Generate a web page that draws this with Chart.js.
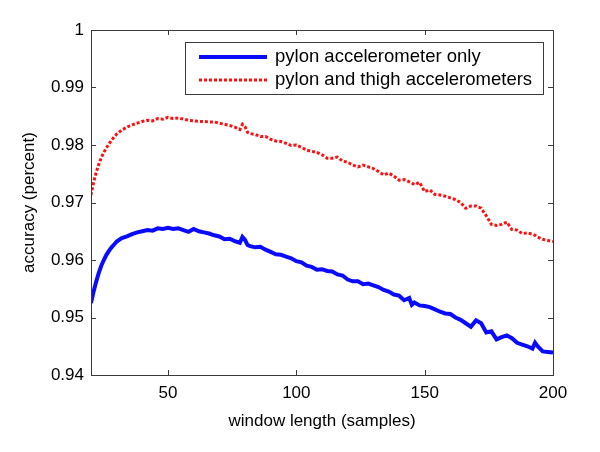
<!DOCTYPE html>
<html>
<head>
<meta charset="utf-8">
<script src="https://cdn.jsdelivr.net/npm/chart.js@4"></script>
<style>
  html, body { margin: 0; padding: 0; background: #fff; }
  #wrap { width: 600px; height: 452px; }
</style>
</head>
<body>
<div id="wrap"><canvas id="accChart" width="600" height="452"></canvas></div>
<script>
// window length (samples)
let windowLen = [20,21,22,23,24,25,26,27,28,29,30,32,34,36,38,40,42,44,46,48,50,52,54,56,58,60,62,64,66,68,70,72,74,76,78,79,80,81,82,84,86,88,90,92,94,96,98,100,102,104,106,108,110,112,114,116,118,120,122,124,126,128,130,132,134,136,138,140,142,144,145,146,148,150,152,154,156,158,160,162,164,166,168,170,172,174,176,178,180,182,184,186,188,190,192,193,194,196,198,200];

// pylon accelerometer only
let pylonOnly = [0.9525,0.9545,0.9562,0.9577,0.9590,0.9600,0.9609,0.9616,0.9622,0.9627,0.9632,0.9638,0.9641,0.9645,0.9648,0.9650,0.9652,0.9651,0.9655,0.9654,0.9656,0.9654,0.9655,0.9652,0.9649,0.9654,0.9650,0.9648,0.9646,0.9643,0.9641,0.9636,0.9637,0.9633,0.9630,0.9640,0.9635,0.9626,0.9624,0.9622,0.9623,0.9618,0.9614,0.9610,0.9609,0.9606,0.9603,0.9598,0.9596,0.9590,0.9588,0.9583,0.9584,0.9581,0.9580,0.9575,0.9573,0.9566,0.9563,0.9563,0.9558,0.9559,0.9556,0.9553,0.9548,0.9545,0.9540,0.9538,0.9530,0.9534,0.9522,0.9526,0.9521,0.9520,0.9518,0.9514,0.9510,0.9507,0.9506,0.9500,0.9496,0.9490,0.9484,0.9495,0.9490,0.9474,0.9476,0.9462,0.9466,0.9469,0.9464,0.9456,0.9453,0.9450,0.9446,0.9456,0.9450,0.9441,0.9440,0.9439];

// pylon and thigh accelerometers
let pylonThigh = [0.9713,0.9735,0.9752,0.9766,0.9778,0.9787,0.9795,0.9802,0.9808,0.9814,0.9819,0.9826,0.9831,0.9835,0.9838,0.9841,0.9843,0.9842,0.9846,0.9845,0.9848,0.9846,0.9847,0.9845,0.9843,0.9842,0.9841,0.9841,0.9840,0.9840,0.9838,0.9836,0.9834,0.9831,0.9827,0.9836,0.9832,0.9822,0.9820,0.9818,0.9815,0.9815,0.9810,0.9807,0.9806,0.9803,0.9799,0.9800,0.9796,0.9791,0.9789,0.9787,0.9783,0.9777,0.9777,0.9779,0.9772,0.9770,0.9765,0.9762,0.9765,0.9762,0.9759,0.9754,0.9748,0.9751,0.9746,0.9739,0.9740,0.9736,0.9734,0.9731,0.9735,0.9719,0.9722,0.9714,0.9713,0.9711,0.9708,0.9705,0.9700,0.9690,0.9694,0.9694,0.9690,0.9677,0.9662,0.9660,0.9662,0.9666,0.9653,0.9652,0.9646,0.9647,0.9645,0.9643,0.9640,0.9636,0.9634,0.9632];

let xTicks = [50, 100, 150, 200];
let yTicks = [0.94, 0.95, 0.96, 0.97, 0.98, 0.99, 1];
let seriesNames = ["pylon accelerometer only", "pylon and thigh accelerometers"];

const FONT = "'Liberation Sans', Arial, sans-serif";
const BLUE = "#0a0aff";
const RED = "#ff1010";

// box, inward tick marks and the legend, matlab style
const boxPlugin = {
    id: 'boxPlugin',
    afterDraw(chart) {
        let ctx = chart.ctx;
        let a = chart.chartArea;
        let xs = chart.scales.x, ys = chart.scales.y;
        ctx.save();
        ctx.strokeStyle = "#3a3a3a";
        ctx.lineWidth = 1;
        ctx.strokeRect(a.left + 0.5, a.top + 0.5, a.right - a.left, a.bottom - a.top);
        ctx.beginPath();
        xTicks.forEach(t => {
            let px = Math.round(xs.getPixelForValue(t)) + 0.5;
            ctx.moveTo(px, a.bottom); ctx.lineTo(px, a.bottom - 5);
            ctx.moveTo(px, a.top); ctx.lineTo(px, a.top + 5);
        });
        yTicks.forEach(t => {
            let py = Math.round(ys.getPixelForValue(t)) + 0.5;
            ctx.moveTo(a.left, py); ctx.lineTo(a.left + 5, py);
            ctx.moveTo(a.right, py); ctx.lineTo(a.right - 5, py);
        });
        ctx.stroke();

        // legend
        let lx = 185, ly = 42, lw = 358, lh = 52;
        ctx.fillStyle = "#fff";
        ctx.fillRect(lx, ly, lw, lh);
        ctx.strokeRect(lx + 0.5, ly + 0.5, lw, lh);

        ctx.lineWidth = 4;
        ctx.strokeStyle = BLUE;
        ctx.beginPath(); ctx.moveTo(199, 57); ctx.lineTo(267, 57); ctx.stroke();
        ctx.lineWidth = 3;
        ctx.strokeStyle = RED;
        ctx.setLineDash([3, 2]);
        ctx.beginPath(); ctx.moveTo(199, 80); ctx.lineTo(267, 80); ctx.stroke();
        ctx.setLineDash([]);

        ctx.fillStyle = "#000";
        ctx.font = "18.5px " + FONT;
        ctx.textBaseline = "middle";
        ctx.fillText(seriesNames[0], 275, 57);
        ctx.fillText(seriesNames[1], 275, 80);
        ctx.restore();
    }
};

let ctx = document.getElementById('accChart').getContext('2d');
let chart = new Chart(ctx, {
    type: 'line',
    data: {
        datasets: [
            {
                label: seriesNames[0],
                data: windowLen.map((x, i) => ({ x: x, y: pylonOnly[i] })),
                borderColor: BLUE,
                borderWidth: 4,
                pointRadius: 0,
                tension: 0,
                fill: false
            },
            {
                label: seriesNames[1],
                data: windowLen.map((x, i) => ({ x: x, y: pylonThigh[i] })),
                borderColor: RED,
                borderWidth: 3,
                borderDash: [3, 2],
                pointRadius: 0,
                tension: 0,
                fill: false
            }
        ]
    },
    options: {
        responsive: false,
        animation: false,
        layout: { padding: { top: 30, right: 47, bottom: 0, left: 0 } },
        plugins: {
            legend: { display: false },
            tooltip: { enabled: false }
        },
        scales: {
            x: {
                type: 'linear',
                min: 20,
                max: 200,
                afterBuildTicks: s => { s.ticks = xTicks.map(v => ({ value: v })); },
                afterFit: s => { s.height = 77; },
                grid: { display: false, drawTicks: false },
                border: { display: false },
                ticks: { color: '#000', font: { family: FONT, size: 17 }, padding: 8, maxRotation: 0 },
                title: { display: true, text: 'window length (samples)', color: '#000', font: { family: FONT, size: 17 }, padding: { top: 0, bottom: 20 } }
            },
            y: {
                min: 0.94,
                max: 1,
                afterBuildTicks: s => { s.ticks = yTicks.map(v => ({ value: v })); },
                afterFit: s => { s.width = 91; },
                grid: { display: false, drawTicks: false },
                border: { display: false },
                ticks: { color: '#000', font: { family: FONT, size: 17 }, padding: 7, callback: v => String(Number(v.toFixed(2))) },
                title: { display: true, text: 'accuracy (percent)', color: '#000', font: { family: FONT, size: 17 }, padding: { top: 19, bottom: 0 } }
            }
        }
    },
    plugins: [boxPlugin]
});
</script>
</body>
</html>
